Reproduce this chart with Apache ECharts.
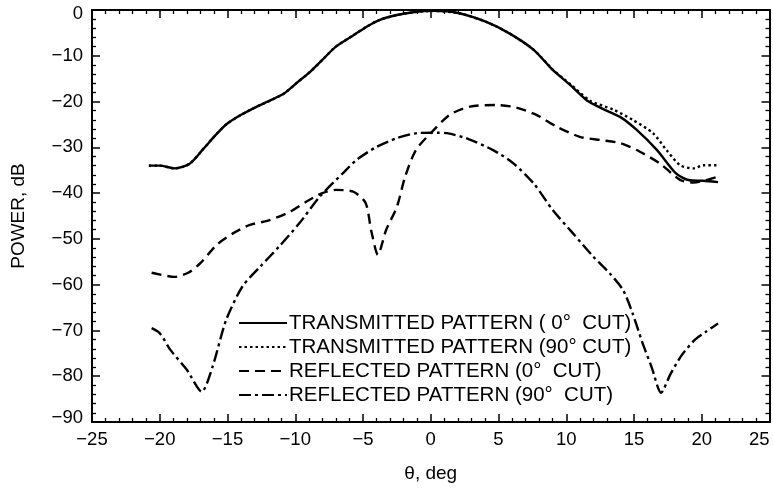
<!DOCTYPE html>
<html>
<head>
<meta charset="utf-8">
<script src="https://cdn.jsdelivr.net/npm/echarts@6/dist/echarts.min.js"></script>
<style>
  html, body { margin: 0; padding: 0; background: #fff; }
  #chart { width: 773px; height: 489px; }
</style>
</head>
<body>
<div id="chart"></div>
<script>
// ---- data ----
const seriesNames = [
  'TRANSMITTED PATTERN ( 0°  CUT)',
  'TRANSMITTED PATTERN (90° CUT)',
  'REFLECTED PATTERN (0°  CUT)',
  'REFLECTED PATTERN (90°  CUT)'
];

const tx0X = [-20.8, -20.0, -18.9, -17.8, -16.8, -15.9, -15.1, -14.0, -12.9, -11.8, -10.8, -9.8, -8.9, -8.0, -7.0, -5.7, -4.7, -3.8, -2.5, -1.3, 0.2, 2.1, 4.1, 5.8, 7.6, 9.0, 10.3, 11.5, 12.7, 14.0, 15.2, 16.7, 18.1, 19.1, 20.1, 21.2];
const tx0Y = [-34.0, -34.0, -34.6, -33.6, -30.4, -27.4, -25.0, -22.9, -21.2, -19.7, -18.2, -15.7, -13.5, -10.9, -8.0, -5.5, -3.6, -2.2, -1.1, -0.5, -0.2, -0.7, -2.6, -5.1, -8.7, -13.1, -16.4, -19.7, -21.6, -23.4, -26.2, -30.6, -35.7, -37.2, -37.3, -37.6];

const tx90X = [-20.8, -20.0, -18.9, -17.8, -16.8, -15.9, -15.1, -14.0, -12.9, -11.8, -10.8, -9.8, -8.9, -8.0, -7.0, -5.7, -4.7, -3.8, -2.5, -1.3, 0.2, 2.1, 4.1, 5.8, 7.6, 9.0, 10.3, 11.75, 13.5, 14.9, 16.4, 17.4, 18.4, 19.4, 20.1, 21.2];
const tx90Y = [-34.0, -34.0, -34.6, -33.6, -30.4, -27.4, -25.0, -22.9, -21.2, -19.7, -18.2, -15.7, -13.5, -10.9, -8.0, -5.5, -3.6, -2.2, -1.1, -0.5, -0.2, -0.7, -2.6, -5.1, -8.7, -13.0, -16.2, -19.8, -21.8, -24.0, -26.9, -30.6, -33.9, -34.6, -33.9, -33.9];

const rf0X = [-20.6, -18.9, -17.9, -17.0, -15.8, -14.6, -13.4, -11.9, -10.4, -9.2, -8.0, -7.0, -5.7, -4.8, -4.4, -3.9, -3.3, -2.5, -1.9, -1.1, 0.0, 1.4, 2.9, 4.85, 6.3, 7.8, 9.3, 11.0, 12.5, 14.0, 15.4, 16.9, 18.4, 19.4, 20.3, 21.2];
const rf0Y = [-57.4, -58.3, -57.4, -55.3, -51.3, -48.8, -47.0, -45.9, -44.1, -41.9, -40.0, -39.3, -39.7, -42.2, -48.1, -53.5, -48.1, -43.0, -36.5, -30.6, -26.9, -22.9, -21.1, -20.75, -21.3, -22.9, -25.5, -27.7, -28.4, -29.1, -30.9, -33.5, -37.1, -37.7, -37.2, -36.4];

const rf90X = [-20.6, -20.0, -19.2, -18.0, -16.9, -16.1, -15.1, -13.9, -12.6, -11.2, -9.7, -8.2, -6.5, -5.5, -4.0, -2.5, -1.0, 0.5, 1.2, 2.6, 4.6, 6.1, 7.6, 9.0, 10.5, 12.0, 13.2, 14.2, 14.9, 15.6, 16.3, 17.0, 17.7, 18.5, 19.5, 20.3, 21.2];
const rf90Y = [-69.5, -70.6, -74.3, -78.6, -83.4, -77.9, -67.7, -60.4, -56.1, -51.7, -46.6, -40.8, -35.7, -32.8, -29.9, -28.0, -26.9, -26.8, -26.9, -28.0, -30.6, -33.5, -37.9, -43.7, -48.8, -53.9, -57.5, -61.2, -66.3, -72.5, -78.0, -83.6, -79.5, -75.5, -72.0, -70.3, -68.5];

const xTickMin = -25, xTickMax = 25, xTickStep = 5;
const yTickMin = -90, yTickMax = 0, yTickStep = 10;

// ---- chart ----
const zip = (xs, ys) => xs.map((x, i) => [x, ys[i]]);
const FONT = '"Liberation Sans", Arial, sans-serif';
const dashStyles = ['solid', [2.5, 3], [10, 6], [12, 4, 3, 4]];
const allData = [zip(tx0X, tx0Y), zip(tx90X, tx90Y), zip(rf0X, rf0Y), zip(rf90X, rf90Y)];

const baseAxisLine = { show: true, onZero: false, lineStyle: { color: '#000', width: 2 } };
const tick = { show: true, inside: true, length: 8, lineStyle: { color: '#000', width: 1.5 } };
const minor = { show: true, splitNumber: 5, length: 4, lineStyle: { color: '#000', width: 1.3 } };
const fmt = v => (v < 0 ? '\u2212' + Math.abs(v) : String(v));

function xAxisDef(pos, labels) {
  return {
    type: 'value', position: pos, min: xTickMin, max: xTickMax, interval: xTickStep,
    axisLine: baseAxisLine, axisTick: tick, minorTick: minor, splitLine: { show: false },
    axisLabel: {
      show: labels, color: '#000', fontFamily: FONT, fontSize: 18.5, margin: 8,
      alignMaxLabel: 'right', formatter: fmt
    },
    name: labels ? 'θ, deg' : '', nameLocation: 'middle', nameGap: 42,
    nameTextStyle: { color: '#000', fontFamily: FONT, fontSize: 19 }
  };
}
function yAxisDef(pos, labels) {
  return {
    type: 'value', position: pos, min: yTickMin, max: yTickMax, interval: yTickStep,
    axisLine: baseAxisLine, axisTick: tick, minorTick: minor, splitLine: { show: false },
    axisLabel: {
      show: labels, color: '#000', fontFamily: FONT, fontSize: 18.5, margin: 9, lineHeight: 8,
      verticalAlignMinLabel: 'bottom', verticalAlignMaxLabel: 'top', formatter: fmt
    },
    name: labels ? 'POWER, dB' : '', nameLocation: 'middle', nameGap: 64, nameRotate: 90,
    nameTextStyle: { color: '#000', fontFamily: FONT, fontSize: 19 }
  };
}

const chart = echarts.init(document.getElementById('chart'), null, { renderer: 'canvas' });
chart.setOption({
  backgroundColor: '#fff',
  animation: false,
  grid: { left: 92, right: 3.5, top: 10, bottom: 67, containLabel: false },
  xAxis: [xAxisDef('bottom', true), xAxisDef('top', false)],
  yAxis: [yAxisDef('left', true), yAxisDef('right', false)],
  legend: {
    orient: 'vertical', left: 233, top: 306,
    itemWidth: 48, itemHeight: 14, itemGap: 0,
    itemStyle: { opacity: 0 },
    textStyle: { color: '#000', fontFamily: FONT, fontSize: 20.5, lineHeight: 24, padding: [0, 0, 0, -3] },
    data: seriesNames
  },
  series: seriesNames.map((name, i) => ({
    name, type: 'line', xAxisIndex: 0, yAxisIndex: 0,
    data: allData[i], symbol: 'none', smooth: 0.25,
    lineStyle: { color: '#000', width: 2.4, type: dashStyles[i] },
    itemStyle: { color: '#000' }
  }))
});
</script>
</body>
</html>
